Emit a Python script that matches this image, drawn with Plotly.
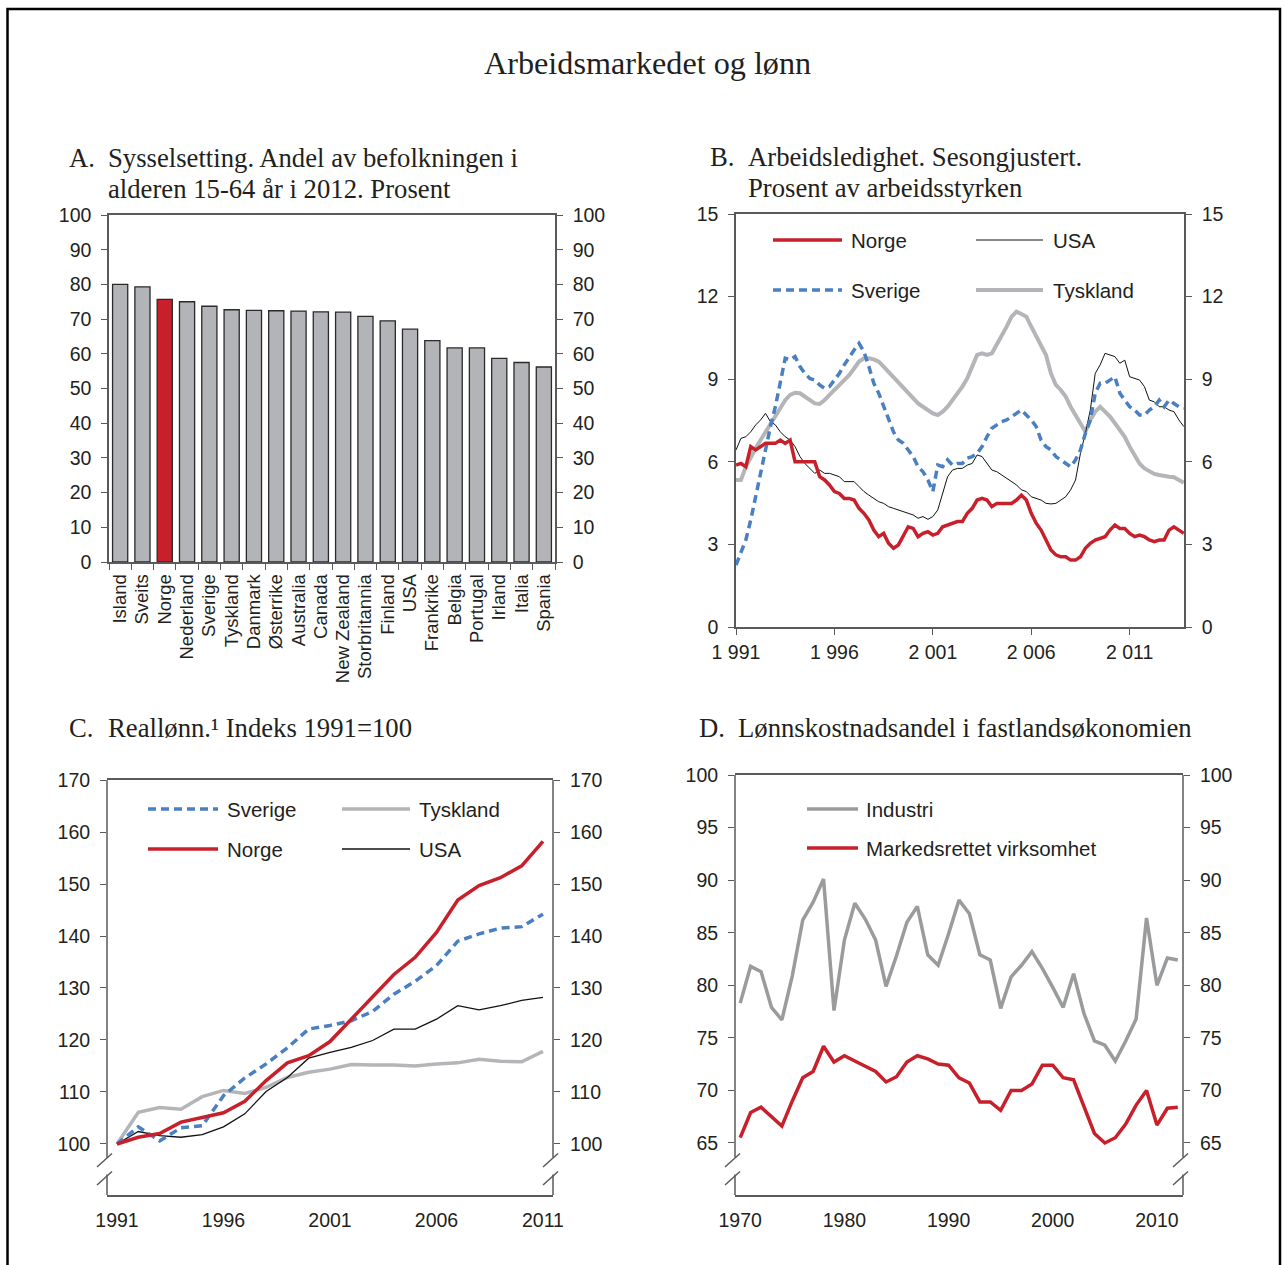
import numpy as np
import plotly.graph_objects as go

W, H = 1286, 1265

# ---------------- DATA ----------------
# Panel A
countries = ["Island", "Sveits", "Norge", "Nederland", "Sverige", "Tyskland", "Danmark",
             "Østerrike", "Australia", "Canada", "New Zealand", "Storbritannia", "Finland",
             "USA", "Frankrike", "Belgia", "Portugal", "Irland", "Italia", "Spania"]
employment = [80.0, 79.3, 75.7, 75.0, 73.7, 72.7, 72.5, 72.4, 72.3, 72.1, 72.0, 70.8,
              69.5, 67.1, 63.8, 61.7, 61.7, 58.7, 57.5, 56.2]
a_ticks = list(range(0, 101, 10))

# Panel B (quarterly, 1991Q1 - 2013Q4)
b_time = [1991 + q / 4 for q in range(92)]
b_norge = [5.88, 5.94, 5.82, 6.55, 6.43, 6.55, 6.67, 6.67, 6.67, 6.79, 6.67, 6.79,
           6.0, 6.0, 6.0, 6.0, 6.0, 5.46, 5.34, 5.16, 4.92, 4.85, 4.67, 4.67,
           4.61, 4.31, 4.13, 3.89, 3.52, 3.28, 3.4, 3.04, 2.86, 2.98, 3.28, 3.64,
           3.58, 3.28, 3.4, 3.46, 3.34, 3.4, 3.64, 3.7, 3.77, 3.83, 3.83, 4.13,
           4.31, 4.61, 4.67, 4.61, 4.37, 4.49, 4.49, 4.49, 4.49, 4.61, 4.79, 4.61,
           4.13, 3.77, 3.52, 3.16, 2.8, 2.62, 2.55, 2.55, 2.43, 2.43, 2.55, 2.86,
           3.04, 3.16, 3.22, 3.28, 3.52, 3.7, 3.58, 3.58, 3.4, 3.28, 3.34, 3.28,
           3.16, 3.1, 3.16, 3.16, 3.52, 3.64, 3.52, 3.4]
b_usa = [6.43, 6.85, 6.91, 7.09, 7.34, 7.52, 7.76, 7.46, 7.34, 7.09, 6.91, 6.79,
         6.55, 6.19, 5.94, 5.76, 5.58, 5.7, 5.58, 5.58, 5.52, 5.46, 5.28, 5.28,
         5.28, 5.1, 4.92, 4.79, 4.67, 4.55, 4.49, 4.37, 4.31, 4.25, 4.19, 4.13,
         4.07, 3.95, 4.01, 3.91, 4.01, 4.25, 4.85, 5.46, 5.7, 5.76, 5.76, 5.88,
         5.94, 6.25, 6.19, 5.94, 5.7, 5.64, 5.52, 5.4, 5.28, 5.16, 4.98, 4.92,
         4.73, 4.67, 4.61, 4.49, 4.47, 4.49, 4.61, 4.73, 4.98, 5.34, 6.31, 7.03,
         7.88, 9.21, 9.52, 9.94, 9.88, 9.82, 9.58, 9.69, 9.09, 9.03, 8.97, 8.73,
         8.24, 8.18, 8.0, 8.0, 7.88, 7.82, 7.52, 7.28]
b_sverige = [2.25, 2.68, 3.16, 3.89, 4.73, 5.58, 6.55, 7.28, 8.0, 8.85, 9.76, 9.7,
             9.82, 9.46, 9.21, 9.03, 8.97, 8.79, 8.67, 8.73, 8.97, 9.21, 9.52, 9.82,
             10.06, 10.3, 10.0, 9.46, 8.85, 8.49, 8.0, 7.58, 7.09, 6.79, 6.67, 6.43,
             6.19, 5.82, 5.64, 5.34, 4.92, 5.88, 5.82, 6.07, 5.88, 5.94, 5.94, 6.13,
             6.19, 6.31, 6.55, 6.91, 7.22, 7.34, 7.46, 7.52, 7.64, 7.76, 7.88, 7.7,
             7.52, 7.28, 6.79, 6.55, 6.43, 6.19, 6.07, 5.94, 5.82, 6.07, 6.43, 7.03,
             7.52, 8.49, 8.85, 8.85, 8.97, 9.09, 8.49, 8.24, 8.0, 7.88, 7.7, 7.7,
             7.88, 8.0, 8.24, 8.0, 8.24, 8.12, 8.0, 7.94]
b_tyskland = [5.34, 5.34, 5.82, 6.19, 6.49, 6.79, 7.09, 7.4, 7.64, 7.94, 8.24, 8.43,
              8.51, 8.49, 8.37, 8.24, 8.12, 8.1, 8.24, 8.43, 8.61, 8.79, 8.97, 9.15,
              9.39, 9.64, 9.76, 9.76, 9.72, 9.64, 9.46, 9.27, 9.03, 8.85, 8.67, 8.49,
              8.3, 8.12, 8.0, 7.88, 7.76, 7.7, 7.82, 8.0, 8.24, 8.43, 8.73, 9.03,
              9.46, 9.88, 9.94, 9.88, 9.94, 10.24, 10.54, 10.91, 11.27, 11.45, 11.37, 11.27,
              10.91, 10.54, 10.24, 9.88, 9.21, 8.79, 8.61, 8.37, 8.0, 7.7, 7.4, 7.09,
              7.52, 7.82, 8.0, 7.82, 7.64, 7.4, 7.15, 6.91, 6.55, 6.25, 5.94, 5.76,
              5.64, 5.56, 5.52, 5.48, 5.46, 5.44, 5.34, 5.24]
b_xticks = [1991, 1996, 2001, 2006, 2011]
b_xticktext = ["1 991", "1 996", "2 001", "2 006", "2 011"]
b_yticks = [0, 3, 6, 9, 12, 15]

# Panel C (annual 1991-2011)
c_years = list(range(1991, 2012))
c_sverige = [100, 103.3, 100.6, 103.1, 103.5, 109.3, 112.7, 115.4, 118.5, 122.1, 122.8,
             123.7, 125.5, 128.8, 131.3, 134.3, 139.0, 140.4, 141.5, 141.8, 144.2]
c_tyskland = [100, 106.1, 107.0, 106.7, 109.1, 110.3, 109.7, 110.9, 112.8, 113.8, 114.4,
              115.3, 115.2, 115.2, 115.0, 115.4, 115.6, 116.3, 115.9, 115.8, 117.8]
c_norge = [100, 101.3, 102.0, 104.2, 105.1, 106.0, 108.2, 112.2, 115.6, 117.0, 119.7,
           124.0, 128.2, 132.6, 135.9, 140.7, 146.9, 149.7, 151.2, 153.5, 158.2]
c_usa = [100, 102.4, 101.6, 101.3, 101.8, 103.3, 105.8, 110.1, 112.8, 116.5, 117.6,
         118.6, 119.9, 122.1, 122.1, 124.0, 126.6, 125.8, 126.6, 127.6, 128.2]
c_xticks = [1991, 1996, 2001, 2006, 2011]
c_yticks = [100, 110, 120, 130, 140, 150, 160, 170]

# Panel D (annual 1970-2012)
d_years = list(range(1970, 2013))
d_industri = [78.3, 81.8, 81.3, 77.9, 76.7, 80.9, 86.2, 87.9, 90.1, 77.6,
              84.3, 87.8, 86.3, 84.3, 79.9, 82.8, 86.0, 87.5, 82.9, 81.9,
              84.9, 88.1, 86.8, 82.9, 82.4, 77.8, 80.8, 81.9, 83.2, 81.6,
              79.8, 77.9, 81.1, 77.3, 74.7, 74.3, 72.8, 74.7, 76.8, 86.4,
              80.0, 82.6, 82.4]
d_marked = [65.5, 67.9, 68.4, 67.5, 66.6, 69.0, 71.2, 71.8, 74.2, 72.7,
            73.3, 72.8, 72.3, 71.8, 70.8, 71.3, 72.7, 73.3, 73.0, 72.5,
            72.4, 71.2, 70.7, 68.9, 68.9, 68.1, 70.0, 70.0, 70.6, 72.4,
            72.4, 71.2, 71.0, 68.5, 65.9, 65.0, 65.5, 66.8, 68.6, 70.0,
            66.7, 68.3, 68.4]
d_xticks = [1970, 1980, 1990, 2000, 2010]
d_yticks = [65, 70, 75, 80, 85, 90, 95, 100]

# ---------------- STYLE ----------------
RED = "#c8202b"
BLUE = "#4a7fc2"
LGRAY = "#b4b5b8"
DGRAY = "#9a9b9d"
BLACK = "#111111"
AXC = "#5a5a5c"
TXT = "#231f20"
SANS = "Liberation Sans, Arial, sans-serif"
SERIF = "Liberation Serif, Times New Roman, serif"
TICKF = dict(family=SANS, size=19.5, color=TXT)


def px(x):
    return x / W


def py(y):
    return 1 - y / H


fig = go.Figure()

# Panel A bars
bar_colors = [RED if c == "Norge" else "#b3b4b7" for c in countries]
fig.add_trace(go.Bar(x=countries, y=employment, marker=dict(color=bar_colors,
                     line=dict(color="#2a2a2a", width=1.3)), width=0.68,
                     xaxis="x", yaxis="y", hoverinfo="x+y"))
fig.add_trace(go.Scatter(x=[None], y=[None], xaxis="x", yaxis="y2", showlegend=False))

# Panel B lines
fig.add_trace(go.Scatter(x=b_time, y=b_tyskland, mode="lines", line=dict(color=LGRAY, width=4),
                         xaxis="x3", yaxis="y3"))
fig.add_trace(go.Scatter(x=b_time, y=b_usa, mode="lines", line=dict(color=BLACK, width=1),
                         xaxis="x3", yaxis="y3"))
fig.add_trace(go.Scatter(x=b_time, y=b_sverige, mode="lines",
                         line=dict(color=BLUE, width=3.5, dash="8px,5px"),
                         xaxis="x3", yaxis="y3"))
fig.add_trace(go.Scatter(x=b_time, y=b_norge, mode="lines", line=dict(color=RED, width=3.5),
                         xaxis="x3", yaxis="y3"))
fig.add_trace(go.Scatter(x=[None], y=[None], xaxis="x3", yaxis="y4"))

# Panel C lines
fig.add_trace(go.Scatter(x=c_years, y=c_tyskland, mode="lines", line=dict(color=LGRAY, width=3.5),
                         xaxis="x5", yaxis="y5"))
fig.add_trace(go.Scatter(x=c_years, y=c_usa, mode="lines", line=dict(color=BLACK, width=1.3),
                         xaxis="x5", yaxis="y5"))
fig.add_trace(go.Scatter(x=c_years, y=c_sverige, mode="lines",
                         line=dict(color=BLUE, width=3.5, dash="8px,5px"),
                         xaxis="x5", yaxis="y5"))
fig.add_trace(go.Scatter(x=c_years, y=c_norge, mode="lines", line=dict(color=RED, width=3.5),
                         xaxis="x5", yaxis="y5"))
fig.add_trace(go.Scatter(x=[None], y=[None], xaxis="x5", yaxis="y6"))

# Panel D lines
fig.add_trace(go.Scatter(x=d_years, y=d_industri, mode="lines", line=dict(color=DGRAY, width=3.5),
                         xaxis="x7", yaxis="y7"))
fig.add_trace(go.Scatter(x=d_years, y=d_marked, mode="lines", line=dict(color=RED, width=3.5),
                         xaxis="x7", yaxis="y7"))
fig.add_trace(go.Scatter(x=[None], y=[None], xaxis="x7", yaxis="y8"))

ax_common = dict(showgrid=False, zeroline=False, linecolor=AXC, linewidth=1.5,
                 tickcolor=AXC, tickwidth=1.3, tickfont=TICKF, fixedrange=True,
                 automargin=False)

domA_x = [px(109), px(555)]
domA_y = [py(562), py(215)]
domB_x = [px(736), px(1184)]
domB_y = [py(627), py(214)]
domC_x = [px(107), px(553)]
domC_y = [py(1195), py(780)]
domD_x = [px(735), px(1183)]
domD_y = [py(1195), py(775)]

layout_axes = dict(
    xaxis=dict(domain=domA_x, anchor="y", type="category", showline=True, mirror=True,
               ticks="outside", tickson="boundaries", ticklen=6, tickangle=-90,
               tickmode="array", tickvals=countries, ticktext=countries,
               ticklabelstandoff=3,
               **{k: v for k, v in ax_common.items() if k != "tickfont"},
               tickfont=dict(family=SANS, size=18.5, color=TXT)),
    yaxis=dict(domain=domA_y, anchor="x", range=[0, 100], tickvals=a_ticks, ticks="outside",
               ticklen=6, showline=True, ticklabelstandoff=6, **ax_common),
    yaxis2=dict(overlaying="y", anchor="x", side="right", range=[0, 100], tickvals=a_ticks,
                ticks="outside", ticklen=6, showline=True, ticklabelstandoff=6, **ax_common),
    xaxis3=dict(domain=domB_x, anchor="y3", range=[1991, 2013.76], tickvals=b_xticks,
                ticktext=b_xticktext, ticks="outside", ticklen=6, showline=True, mirror=True,
                ticklabelstandoff=1, **ax_common),
    yaxis3=dict(domain=domB_y, anchor="x3", range=[0, 15], tickvals=b_yticks, ticks="outside",
                ticklen=6, showline=True, ticklabelstandoff=6, **ax_common),
    yaxis4=dict(overlaying="y3", anchor="x3", side="right", range=[0, 15], tickvals=b_yticks,
                ticks="outside", ticklen=6, showline=True, ticklabelstandoff=6, **ax_common),
    xaxis5=dict(domain=domC_x, anchor="y5", range=[1990.53, 2011.47], tickvals=c_xticks,
                ticks="", showline=True, mirror=True, ticklabelstandoff=7, **ax_common),
    yaxis5=dict(domain=domC_y, anchor="x5", range=[90.19, 170], tickvals=c_yticks,
                ticks="outside", ticklen=6, showline=False, ticklabelstandoff=6, **ax_common),
    yaxis6=dict(overlaying="y5", anchor="x5", side="right", range=[90.19, 170],
                tickvals=c_yticks, ticks="outside", ticklen=6, showline=False,
                ticklabelstandoff=6, **ax_common),
    xaxis7=dict(domain=domD_x, anchor="y7", range=[1969.5, 2012.5], tickvals=d_xticks,
                ticks="", showline=True, mirror=True, ticklabelstandoff=7, **ax_common),
    yaxis7=dict(domain=domD_y, anchor="x7", range=[60.05, 100], tickvals=d_yticks,
                ticks="outside", ticklen=6, showline=False, ticklabelstandoff=6, **ax_common),
    yaxis8=dict(overlaying="y7", anchor="x7", side="right", range=[60.05, 100],
                tickvals=d_yticks, ticks="outside", ticklen=6, showline=False,
                ticklabelstandoff=6, **ax_common),
)

shapes = []


def pline(x0, y0, x1, y1, color=AXC, width=1.5, dash=None):
    d = dict(type="line", xref="paper", yref="paper", x0=px(x0), y0=py(y0), x1=px(x1),
             y1=py(y1), line=dict(color=color, width=width), layer="above")
    if dash:
        d["line"]["dash"] = dash
    shapes.append(d)


# figure frame
shapes.append(dict(type="rect", xref="paper", yref="paper", x0=px(7.5), y0=py(1300),
                   x1=px(1280), y1=py(9), line=dict(color="black", width=2.5), layer="above"))

# broken vertical axes for panels C and D
for xl, yt in [(107, 780), (553, 780), (735, 775), (1183, 775)]:
    pline(xl, yt, xl, 1157.5)
    pline(xl, 1174.5, xl, 1195)
    pline(xl - 10, 1167, xl + 5, 1153.5)
    pline(xl - 10, 1185, xl + 5, 1171.5)

annotations = []


def text(x, y, s, size=20.5, family=SANS, xanchor="left", yanchor="middle"):
    annotations.append(dict(x=px(x), y=py(y), xref="paper", yref="paper", text=s,
                            showarrow=False, xanchor=xanchor, yanchor=yanchor,
                            font=dict(family=family, size=size, color=TXT)))


# legends
# Panel B
pline(773, 240, 842, 240, RED, 3.5)
text(849, 240, "Norge")
pline(976, 240, 1043, 240, BLACK, 1)
text(1051, 240, "USA")
pline(773, 290, 842, 290, BLUE, 3.5, "8px,5px")
text(849, 290, "Sverige")
pline(976, 290, 1043, 290, LGRAY, 4)
text(1051, 290, "Tyskland")
# Panel C
pline(148, 809, 218, 809, BLUE, 3.5, "8px,5px")
text(225, 809, "Sverige")
pline(342, 809, 410, 809, LGRAY, 3.5)
text(417, 809, "Tyskland")
pline(148, 849, 218, 849, RED, 3.5)
text(225, 849, "Norge")
pline(342, 849, 410, 849, BLACK, 1.3)
text(417, 849, "USA")
# Panel D
pline(807, 809, 858, 809, DGRAY, 3.5)
text(864, 809, "Industri")
pline(807, 848, 858, 848, RED, 3.5)
text(864, 848, "Markedsrettet virksomhet")

# titles
TS = 26.7
text(647, 63, "Arbeidsmarkedet og lønn", size=32.2, family=SERIF, xanchor="center")
text(67, 158, "A.", size=TS, family=SERIF)
text(106, 158, "Sysselsetting. Andel av befolkningen i", size=TS, family=SERIF)
text(106, 189, "alderen 15-64 år i 2012. Prosent", size=TS, family=SERIF)
text(708, 157, "B.", size=TS, family=SERIF)
text(746, 157, "Arbeidsledighet. Sesongjustert.", size=TS, family=SERIF)
text(746, 188, "Prosent av arbeidsstyrken", size=TS, family=SERIF)
text(67, 728, "C.", size=TS, family=SERIF)
text(106, 728, "Reallønn.¹ Indeks 1991=100", size=TS, family=SERIF)
text(697, 728, "D.", size=TS, family=SERIF)
text(736, 728, "Lønnskostnadsandel i fastlandsøkonomien", size=TS, family=SERIF)

fig.update_layout(width=W, height=H, margin=dict(l=0, r=0, t=0, b=0, pad=0),
                  paper_bgcolor="white", plot_bgcolor="white", showlegend=False,
                  bargap=0.32, shapes=shapes, annotations=annotations, **layout_axes)

fig.write_html("out.html", include_plotlyjs=True, config={"displayModeBar": False},
               post_script="document.body.style.margin='0';")
